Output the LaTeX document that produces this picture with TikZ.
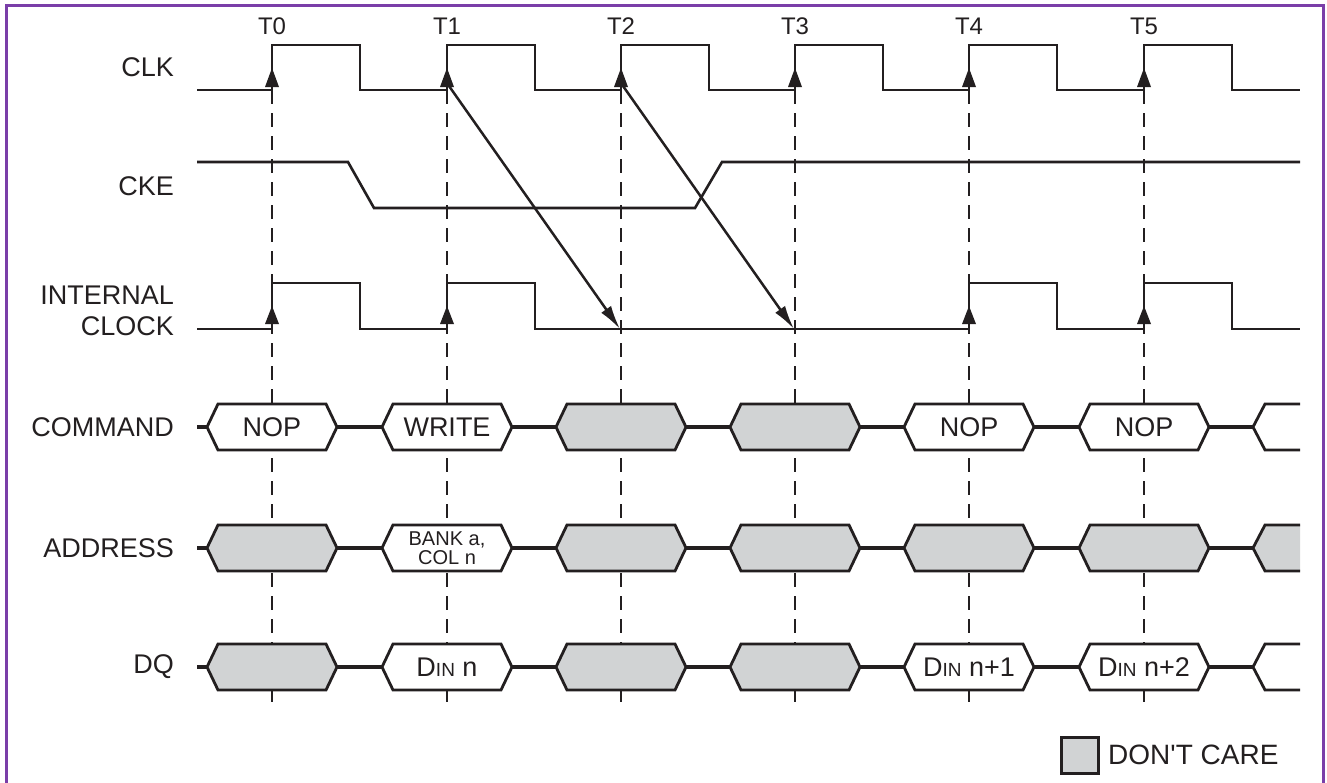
\documentclass[tikz,border=0pt]{standalone}
\usepackage{fontspec}
\setmainfont{Liberation Sans}
\newfontfamily\plainlf{Liberation Sans}
\usetikzlibrary{arrows.meta}
\definecolor{dcgray}{RGB}{209,211,212}
\definecolor{framecol}{RGB}{122,62,168}
\definecolor{ink}{RGB}{35,31,32}
\newcommand{\tdbox}[5]{%
  \filldraw[busbox, fill=#4] (#2-65,#3) -- (#2-54,#3-23) -- (#2+54,#3-23) -- (#2+65,#3) -- (#2+54,#3+23) -- (#2-54,#3+23) -- cycle;
  \node[boxtext] (#1) at (#2,#3) {#5};
}
\newcommand{\tdpart}[3]{%
  \fill[fill=#3] (1300,#2-23) -- (1265,#2-23) -- (1253,#2) -- (1265,#2+23) -- (1300,#2+23) -- cycle;
  \draw[busbox] (1300,#2-23) -- (1265,#2-23) -- (1253,#2) -- (1265,#2+23) -- (1300,#2+23);
  \coordinate (#1) at (1276,#2);
}
\newcommand{\din}{D{\fontsize{19}{20}\selectfont IN}}
\begin{document}
\begin{tikzpicture}[x=1pt,y=-1pt,
  signal/.style={ink, line width=2.6pt, line join=miter},
  busbox/.style={ink, line width=2.8pt, line join=miter},
  busline/.style={ink, line width=3.4pt},
  dashline/.style={ink, line width=2.8pt, dash pattern=on 14pt off 9pt},
  boxtext/.style={text=ink, font=\fontsize{27}{30}\selectfont, inner sep=0pt},
  rowlabel/.style={text=ink, font=\fontsize{27}{31}\selectfont, anchor=east, inner sep=0pt, align=right},
  tlabel/.style={text=ink, font=\fontsize{24}{26}\selectfont, inner sep=0pt},
  edgetip/.style={fill=ink},
  delay/.style={ink, line width=2.5pt, -{Latex[length=24pt,width=12pt]}}
]
\useasboundingbox (0,0) rectangle (1327,782);
\fill[white] (0,0) rectangle (1327,782);
% frame
\draw[framecol, line width=3pt] (6,800) -- (6,5) -- (1323,5) -- (1323,800);

% time labels
\foreach \t/\x in {0/272,1/447,2/621,3/795,4/969,5/1144}{
  \node[tlabel] (T\t) at (\x,26) {T\t};
  \draw[dashline] (\x,90) -- (\x,705);
}

% row labels
\node[rowlabel] (lclk) at (174,67) {CLK};
\node[rowlabel] (lcke) at (174,186) {CKE};
\node[rowlabel] (lint) at (174,311) {INTERNAL\\CLOCK};
\node[rowlabel] (lcmd) at (174,427) {COMMAND};
\node[rowlabel] (ladr) at (174,548) {ADDRESS};
\node[rowlabel] (ldq) at (174,667) {DQ};

% CLK
\draw[signal] (197,90) -- (272,90) -- (272,45) -- (360,45) -- (360,90)
  -- (447,90) -- (447,45) -- (535,45) -- (535,90)
  -- (621,90) -- (621,45) -- (709,45) -- (709,90)
  -- (795,90) -- (795,45) -- (883,45) -- (883,90)
  -- (969,90) -- (969,45) -- (1057,45) -- (1057,90)
  -- (1144,90) -- (1144,45) -- (1232,45) -- (1232,90) -- (1300,90);
\foreach \x in {272,447,621,795,969,1144}{
  \fill[edgetip] (\x-7,87) -- (\x,68) -- (\x+7,87) -- cycle;
}

% CKE
\draw[signal] (197,162) -- (348,162) -- (374,208) -- (695,208) -- (722,162) -- (1300,162);

% INTERNAL CLOCK
\draw[signal] (197,329) -- (272,329) -- (272,283) -- (360,283) -- (360,329)
  -- (447,329) -- (447,283) -- (535,283) -- (535,329)
  -- (969,329) -- (969,283) -- (1057,283) -- (1057,329)
  -- (1144,329) -- (1144,283) -- (1232,283) -- (1232,329) -- (1300,329);
\foreach \x in {272,447,969,1144}{
  \fill[edgetip] (\x-7,324) -- (\x,306) -- (\x+7,324) -- cycle;
}

% delay arrows
\coordinate (c1) at (449,86);
\coordinate (i2) at (620,329);
\coordinate (c2) at (623,86);
\coordinate (i3) at (794,329);
\draw[delay] (c1) -- (i2);
\draw[delay] (c2) -- (i3);

% COMMAND row
\draw[busline] (197,427) -- (1300,427);
\tdbox{cmd0}{272}{427}{white}{NOP}
\tdbox{cmd1}{447}{427}{white}{WRITE}
\tdbox{cmd2}{621}{427}{dcgray}{}
\tdbox{cmd3}{795}{427}{dcgray}{}
\tdbox{cmd4}{969}{427}{white}{NOP}
\tdbox{cmd5}{1144}{427}{white}{NOP}
\tdpart{cmd6}{427}{white}

% ADDRESS row
\draw[busline] (197,548) -- (1300,548);
\tdbox{adr0}{272}{548}{dcgray}{}
\tdbox{adr1}{447}{548}{white}{\fontsize{20}{21}\selectfont\shortstack{BANK a,\\COL n}}
\tdbox{adr2}{621}{548}{dcgray}{}
\tdbox{adr3}{795}{548}{dcgray}{}
\tdbox{adr4}{969}{548}{dcgray}{}
\tdbox{adr5}{1144}{548}{dcgray}{}
\tdpart{adr6}{548}{dcgray}

% DQ row
\draw[busline] (197,667) -- (1300,667);
\tdbox{dq0}{272}{667}{dcgray}{}
\tdbox{dq1}{447}{667}{white}{\din\ n}
\tdbox{dq2}{621}{667}{dcgray}{}
\tdbox{dq3}{795}{667}{dcgray}{}
\tdbox{dq4}{969}{667}{white}{\din\ n+1}
\tdbox{dq5}{1144}{667}{white}{\din\ n+2}
\tdpart{dq6}{667}{white}

% legend
\filldraw[fill=dcgray, draw=ink, line width=3pt] (1061,737) rectangle (1098,773);
\node[text=ink, font=\plainlf\fontsize{28}{30}\selectfont, anchor=west, inner sep=0pt] (dclabel) at (1108,755) {DON'T CARE};
\end{tikzpicture}
\end{document}
